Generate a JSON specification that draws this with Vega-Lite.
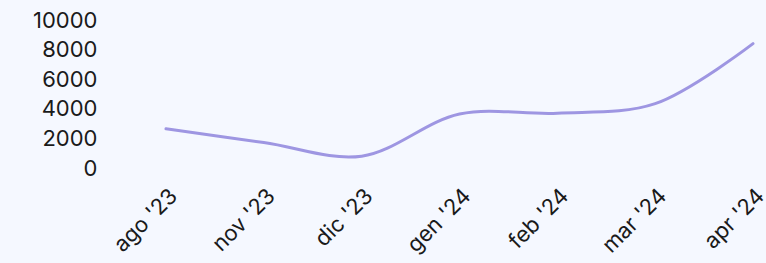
{
  "$schema": "https://vega.github.io/schema/vega-lite/v6.json",
  "autosize": "none",
  "padding": {"left": 166, "top": 20, "right": 13, "bottom": 95},
  "width": 587,
  "height": 148,
  "background": "#f5f8ff",
  "config": {"view": {"stroke": null}, "font": "Inter"},
  "data": {"values": [
    {"mese": "ago '23", "valore": 2650},
    {"mese": "nov '23", "valore": 1720},
    {"mese": "dic '23", "valore": 800},
    {"mese": "gen '24", "valore": 3650},
    {"mese": "feb '24", "valore": 3700},
    {"mese": "mar '24", "valore": 4350},
    {"mese": "apr '24", "valore": 8400}
  ]},
  "mark": {"type": "line", "interpolate": "catmull-rom", "color": "#9e96e2", "strokeWidth": 3, "strokeCap": "round"},
  "encoding": {
    "x": {"field": "mese", "type": "ordinal", "sort": null, "scale": {"type": "point", "padding": 0},
      "axis": {"title": null, "domain": false, "ticks": false, "grid": false, "labelAngle": -45, "labelFontSize": 22, "labelColor": "#1a1a1a", "labelPadding": 17}},
    "y": {"field": "valore", "type": "quantitative", "scale": {"domain": [0, 10000]},
      "axis": {"title": null, "domain": false, "ticks": false, "grid": false, "values": [0, 2000, 4000, 6000, 8000, 10000], "format": "d", "labelFontSize": 22, "labelColor": "#1a1a1a", "offset": 67, "labelPadding": 2}}
  }
}
